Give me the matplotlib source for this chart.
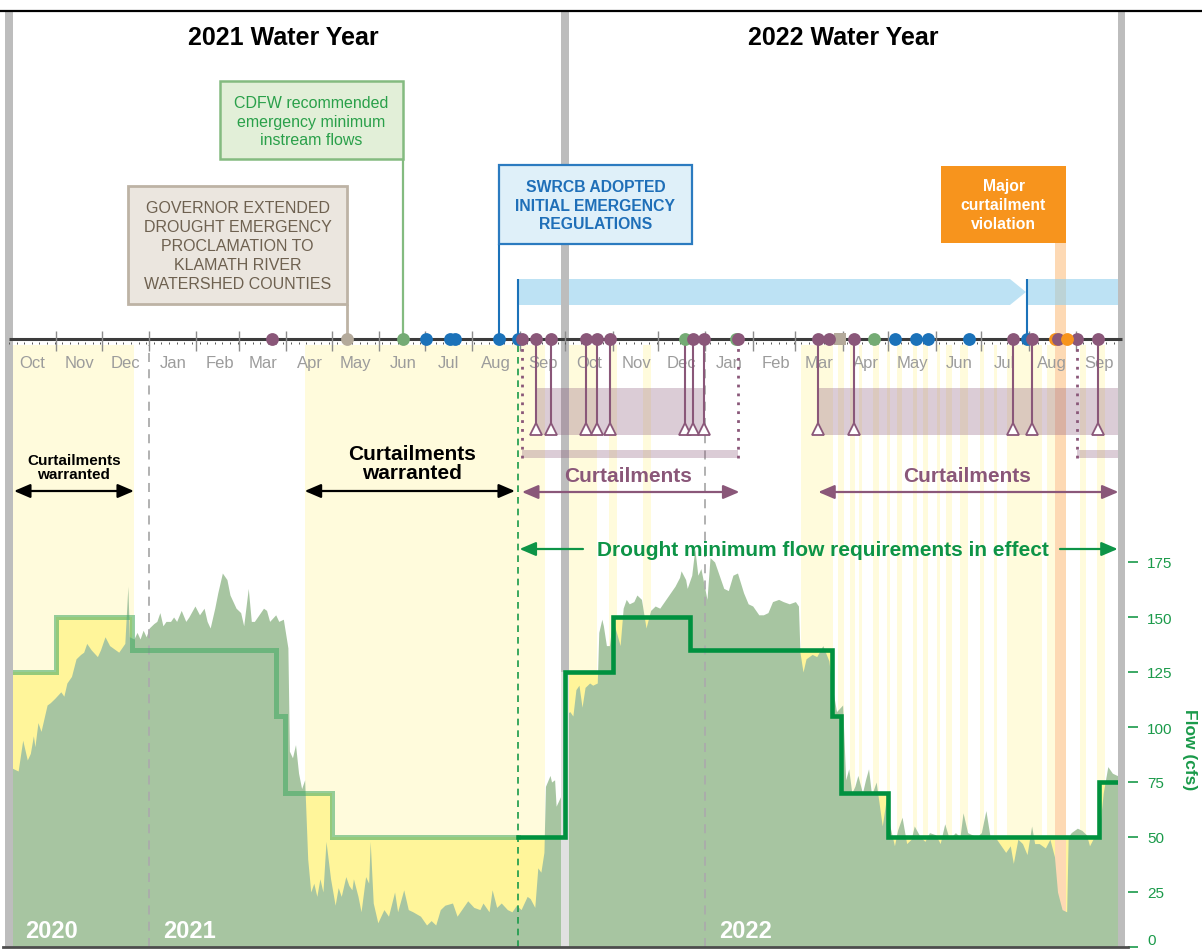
import numpy as np
import pandas as pd
import matplotlib
matplotlib.use("Agg")
import matplotlib.pyplot as plt
from matplotlib.patches import Rectangle, Polygon
from matplotlib.lines import Line2D

plt.rcParams["font.family"] = ["Liberation Sans", "DejaVu Sans"]

# ---------------- data (days counted from 2020-10-01) ----------------
START = pd.Timestamp("2020-10-01")
END_DAY = 730

flow_day = [0, 3, 6, 9, 12, 14, 16, 17, 19, 21, 23, 25, 27, 30, 34, 36, 38, 41, 44, 47,
            49, 51, 54, 58, 60, 63, 66, 70, 72, 74, 76, 78, 79, 82, 84, 86, 88, 90, 92, 95,
            97, 99, 101, 103, 106, 108, 110, 113, 116, 118, 122, 125, 128, 130, 132, 135, 137, 140, 143, 145,
            147, 149, 152, 154, 157, 159, 161, 164, 167, 169, 171, 175, 177, 180,
            183, 184, 186, 188, 190, 192, 194, 196, 198, 200, 202, 204, 206, 208, 211, 214, 216, 218, 221, 223,
            225, 226, 229, 231, 234, 236, 237, 239, 242, 246, 249, 253, 255, 259, 262, 265, 270, 274, 277, 280,
            283, 286, 291, 294, 297, 301, 305, 309, 311, 315, 317, 320, 323, 327, 330, 333, 336, 340, 342, 345,
            347, 349, 351, 352, 355, 356, 358, 359, 363,
            364, 366, 368, 370, 372, 374, 376, 378, 381, 383, 386, 387, 389, 390, 392, 394, 396, 399, 401, 403,
            405, 407, 410, 412, 415, 418, 421, 424, 427, 430, 434, 437, 440, 441, 444, 445, 448, 450, 452, 454,
            458, 460, 463, 465, 469, 472, 475, 478, 482, 485, 488, 492, 495, 498, 501, 505, 508, 512, 516, 518,
            519, 521, 523, 527, 530, 534, 538, 540, 543, 547, 549, 551, 553, 555, 557, 560, 562, 564, 566, 569,
            571, 573, 576, 578, 581, 583, 586, 589, 592, 594, 598, 601, 604, 608, 611, 614, 617, 621, 624, 626,
            629, 632, 635, 638, 641, 644, 647, 650, 654, 657, 659, 662, 665, 668, 671, 673, 676, 680, 683, 686,
            688, 691, 694, 695, 697, 701, 704, 707, 709, 712, 715, 718, 721, 724, 727, 730]
flow_cfs = [82, 81, 80, 94, 85, 88, 96, 91, 102, 98, 104, 110, 111, 113, 116, 114, 120, 123, 131, 133,
            134, 138, 135, 132, 135, 141, 137, 135, 134, 136, 138, 164, 141, 140, 143, 140, 144, 141, 145, 147,
            148, 152, 146, 148, 148, 150, 148, 153, 148, 150, 155, 151, 154, 148, 145, 154, 161, 170, 167, 160,
            157, 154, 152, 146, 163, 148, 148, 151, 154, 153, 148, 151, 148, 149,
            136, 89, 86, 92, 79, 72, 76, 40, 25, 29, 23, 31, 25, 48, 31, 19, 27, 23, 32, 28,
            26, 31, 23, 16, 32, 29, 48, 20, 11, 17, 14, 25, 16, 26, 17, 16, 14, 10, 12, 10,
            17, 19, 20, 14, 17, 21, 18, 17, 20, 16, 26, 18, 20, 17, 16, 19, 17, 23, 22, 18,
            36, 34, 43, 73, 78, 75, 76, 64, 70,
            72, 106, 107, 105, 117, 119, 109, 118, 120, 119, 120, 143, 149, 146, 137, 137, 149, 142, 137, 154,
            158, 156, 157, 160, 158, 145, 153, 155, 154, 157, 161, 164, 168, 171, 167, 163, 169, 181, 169, 172,
            158, 177, 175, 171, 163, 162, 169, 170, 161, 156, 155, 151, 151, 152, 157, 158, 157, 156, 157, 155,
            134, 125, 131, 133, 132, 137, 130, 119, 107, 110, 76, 81, 70, 73, 78, 70, 76, 81, 69, 75,
            65, 55, 69, 55, 46, 53, 59, 47, 49, 55, 50, 48, 52, 51, 47, 56, 49, 52, 50, 61,
            52, 51, 50, 52, 62, 49, 50, 47, 43, 46, 38, 49, 47, 42, 55, 47, 47, 45, 49, 41,
            25, 17, 16, 50, 52, 54, 53, 51, 46, 50, 50, 70, 82, 79, 78, 78]

# minimum flow requirement (step changes)
req_day = [0, 31, 81, 175, 181, 212, 365, 396, 447, 540, 546, 577, 715]
req_cfs = [125, 150, 135, 105, 70, 50, 125, 150, 135, 105, 70, 50, 75]
IN_EFFECT_DAY = 334

# periods when curtailments were warranted
warn_start = [0, 194, 365, 394, 416, 520, 544, 552, 558, 567, 576, 583, 593, 600, 609, 615, 624, 637, 646, 655, 681, 703, 714]
warn_end = [82, 352, 386, 399, 421, 541, 548, 555, 560, 571, 578, 586, 596, 603, 611, 619, 629, 640, 648, 678, 688, 707, 719]

# timeline events
swrcb_days = [273.6, 289.4, 292.7, 321.5, 334, 581.4, 595.1, 603, 630, 667.7]
cdfw_days = [258.5, 443.6, 477, 567.6]
gov_days = [222]
gov_sq_days = [545.3]
violation_days = [686.4, 694.2]
curtail_days = [172.6, 336.6, 345.8, 355.6, 378.6, 385.8, 394.4, 448.8, 456, 478.3, 531, 538,
                554.5, 658.5, 671.3, 688.3, 700.8, 714.6]
order_days = [345.8, 355.6, 378.6, 385.8, 394.4, 443.6, 448.8, 456, 531, 554.5, 658.5, 671.3, 714.6]
curtail_bounds = [336.6, 478.3, 700.8]
curtail_periods = [(336.6, 478.3), (700.8, 728)]
order_periods = [(345.8, 456), (531, 728)]
regulation_periods = [(334, 667.3), (667.7, 728)]
violation_period = (686.4, 693.6)
flow_ticks = [0, 25, 50, 75, 100, 125, 150, 175]

# ---------------- colours ----------------
PURPLE = "#8a5779"
BLUE = "#1b72b9"
GREEN_DOT = "#74ab74"
TAN = "#b4aa9b"
ORANGE = "#f7941d"
DKGREEN = "#00913f"
TXTGREEN = "#0d9447"
FLOWGREEN = "#a7c5a1"

# ---------------- layout ----------------
W, H = 1202, 953
PX0, PXD = 9.0, 1.524      # pixel column of day 0, pixels per day
PY0, PYU = 948.0, 2.2      # pixel row of 0 cfs, pixels per cfs
X0, X1 = -4, 734
Y1 = (PY0 - 12) / PYU


def yp(p):
    return (PY0 - p) / PYU


def xp(p):
    return (p - PX0) / PXD


fig = plt.figure(figsize=(W / 100, H / 100), dpi=100)
left = (PX0 + X0 * PXD) / W
right = (PX0 + X1 * PXD) / W
ax = fig.add_axes([left, (H - PY0) / H, right - left, (PY0 - 12) / H])
ax.set_xlim(X0, X1)
ax.set_ylim(0, Y1)
for s in ax.spines.values():
    s.set_visible(False)
ax.set_xticks([])
ax.yaxis.set_ticks_position("right")
ax.set_yticks(flow_ticks, labels=[str(t) for t in flow_ticks])
ax.tick_params(axis="y", colors="#1a9a4a", length=7, width=1.2, pad=7, labelsize=11)
ax.get_yticklabels()[0].set_verticalalignment("bottom")

TL = yp(340)

# light yellow "curtailment warranted" stripes
for s, e in zip(warn_start, warn_end):
    ax.axvspan(s, e, ymin=0, ymax=yp(346) / Y1, color="#fffbdc", lw=0, zorder=1)

# requirement step arrays
rx = np.array(req_day + [END_DAY], dtype=float)
ry = np.array(req_cfs + [req_cfs[-1]], dtype=float)
ax.fill_between(rx, 0, ry, step="post", color="#fff59a", lw=0, zorder=2)

# violation band
ax.add_patch(Rectangle((violation_period[0], 0), violation_period[1] - violation_period[0], yp(244),
                       fc="#fdd9b4", ec="none", zorder=3))

# flow
ax.fill_between(flow_day, 0, flow_cfs, color=FLOWGREEN, lw=0, zorder=4)

# Jan 1 dashed lines
jan_days = [(pd.Timestamp(f"{y}-01-01") - START).days for y in (2021, 2022)]
ax.vlines(jan_days, 0, yp(346), colors="#ababab", linestyles=(0, (5, 4)), lw=1.3, zorder=5)
ax.vlines([IN_EFFECT_DAY], 0, TL, colors="#1a9a4a", linestyles=(0, (4, 3)), lw=1.2, zorder=5)

# water-year boundary bars
ax.axvspan(-2.5, 2.5, color="#bdbdbd", lw=0, zorder=7.5)
ax.axvspan(END_DAY - 2.5, END_DAY + 2.5, color="#bdbdbd", lw=0, zorder=7.5)
ax.axvspan(362.5, 367.5, ymin=125 / Y1, ymax=1, color="#bdbdbd", lw=0, zorder=5.5)
ax.axvspan(362.5, 367.5, ymin=0, ymax=125 / Y1, color="#e1e1e1", lw=0, zorder=5.5)

# requirement lines: faded before in effect, bold after
i_eff = np.searchsorted(rx, IN_EFFECT_DAY, side="right") - 1
fx = np.concatenate([rx[:i_eff + 1], [IN_EFFECT_DAY]])
fy = np.concatenate([ry[:i_eff + 1], [ry[i_eff]]])
bx = np.concatenate([[IN_EFFECT_DAY], rx[i_eff + 1:]])
by = np.concatenate([[ry[i_eff]], ry[i_eff + 1:]])
ax.step(fx, fy, where="post", color="#3ea860", alpha=0.55, lw=3.6, zorder=6, solid_joinstyle="miter")
ax.step(bx, by, where="post", color=DKGREEN, lw=3.3, zorder=6.1, solid_joinstyle="miter")

# year labels inside flow area
for yr, d in (("2020", xp(25)), ("2021", xp(163)), ("2022", xp(719))):
    ax.text(d, yp(932), yr, color="white", fontsize=17, fontweight="bold", ha="left", va="center", zorder=10)

# ---------------- timeline ----------------
ax.hlines(TL, 0, END_DAY, colors="#3c3c3c", lw=2.2, zorder=8)
month_starts = pd.date_range("2020-11-01", "2022-09-01", freq="MS")
ms_days = [(m - START).days for m in month_starts]
ax.vlines(ms_days, yp(352), yp(332), colors="#8c8c8c", lw=1.0, zorder=8)
weeks = np.arange(0, END_DAY, 5)
ax.vlines(weeks, yp(345), yp(342.5), colors="#555555", lw=0.7, zorder=8)
for m in pd.date_range("2020-10-01", "2022-09-01", freq="MS"):
    mid = (m - START).days + 15.5
    ax.text(mid, yp(363), m.strftime("%b"), color="#9c9c9c", fontsize=12, ha="center", va="center", zorder=8)

# purple order bands
for s, e in order_periods:
    ax.add_patch(Rectangle((s, yp(436)), e - s, yp(389) - yp(436), fc=PURPLE, alpha=0.3, ec="none", zorder=7))
for s, e in curtail_periods:
    ax.add_patch(Rectangle((s, yp(459)), e - s, yp(451) - yp(459), fc=PURPLE, alpha=0.3, ec="none", zorder=7))
ax.vlines(curtail_bounds, yp(459), TL, colors=PURPLE, linestyles=(0, (1, 2.2)), lw=2, zorder=8.4)
TRI = yp(430)
ax.vlines(order_days, TRI, TL, colors=PURPLE, lw=1.5, zorder=8.5)
ax.plot(order_days, [TRI] * len(order_days), "^", ms=8, mfc="white", mec=PURPLE, mew=1.3, ls="none", zorder=8.6)

# regulations (blue band)
(r0, r1), (r2, r3) = regulation_periods
b_lo, b_hi = yp(306), yp(280)
ax.add_patch(Polygon([(r0, b_lo), (r1 - 10.5, b_lo), (r1, (b_lo + b_hi) / 2), (r1 - 10.5, b_hi), (r0, b_hi)],
                     closed=True, fc="#91d0ed", alpha=0.6, ec="none", zorder=3.5))
ax.add_patch(Rectangle((r2, b_lo), r3 - r2, b_hi - b_lo, fc="#91d0ed", alpha=0.6, ec="none", zorder=3.5))
ax.vlines([r0, r2], TL, b_hi, colors=BLUE, lw=1.5, zorder=8)


# boxes with connectors
def box(x0, x1, ytop, ybot, fc, ec, lw=1.8):
    ax.add_patch(Rectangle((x0, yp(ybot)), x1 - x0, yp(ytop) - yp(ybot), fc=fc, ec=ec, lw=lw, zorder=9))


box(xp(220), cdfw_days[0], 82, 160, "#e2efd8", "#84bb80")
ax.vlines([cdfw_days[0]], TL, yp(160), colors="#84bb80", lw=1.6, zorder=8)
ax.text((xp(220) + cdfw_days[0]) / 2, yp(122), "CDFW recommended\nemergency minimum\ninstream flows",
        color="#2aa04a", fontsize=11.5, ha="center", va="center", linespacing=1.3, zorder=10)

box(xp(128), gov_days[0], 187, 305, "#ebe6df", "#bdb3a5", lw=2)
ax.vlines([gov_days[0]], TL, yp(305), colors="#bdb3a5", lw=2, zorder=8)
ax.text((xp(128) + gov_days[0]) / 2, yp(246.5),
        "GOVERNOR EXTENDED\nDROUGHT EMERGENCY\nPROCLAMATION TO\nKLAMATH RIVER\nWATERSHED COUNTIES",
        color="#6e6150", fontsize=11.5, ha="center", va="center", linespacing=1.32, zorder=10)

box(swrcb_days[3], xp(692), 166, 245, "#dff0f9", "#2b7bc0", lw=1.6)
ax.vlines([swrcb_days[3]], TL, yp(245), colors=BLUE, lw=1.5, zorder=8)
ax.text((swrcb_days[3] + xp(692)) / 2, yp(206), "SWRCB ADOPTED\nINITIAL EMERGENCY\nREGULATIONS",
        color="#1f6fb8", fontsize=11.3, fontweight="bold", ha="center", va="center", linespacing=1.3, zorder=10)

ax.add_patch(Rectangle((xp(941), yp(244)), violation_period[1] - xp(941), yp(167) - yp(244),
                       fc=ORANGE, ec="none", zorder=9))
ax.text((xp(941) + violation_period[1]) / 2, yp(205.5), "Major\ncurtailment\nviolation",
        color="white", fontsize=11.3, fontweight="bold", ha="center", va="center", linespacing=1.3, zorder=10)

# dots
DOT = 85
ax.scatter(swrcb_days, [TL] * len(swrcb_days), s=DOT, c=BLUE, lw=0, zorder=9)
ax.scatter(cdfw_days, [TL] * len(cdfw_days), s=DOT, c=GREEN_DOT, lw=0, zorder=9)
ax.scatter(gov_days, [TL] * len(gov_days), s=DOT, c=TAN, lw=0, zorder=9)
ax.scatter(gov_sq_days, [TL] * len(gov_sq_days), s=70, c=TAN, marker="s", lw=0, zorder=9)
ax.scatter(violation_days[:1], [TL], s=DOT, c=ORANGE, lw=0, zorder=9)
ax.scatter(curtail_days, [TL] * len(curtail_days), s=DOT, c=PURPLE, lw=0, zorder=9.2)
ax.scatter(violation_days[1:], [TL], s=DOT, c=ORANGE, lw=0, zorder=9.4)


# ---------------- annotations ----------------
def darrow(x0, x1, y, color, style="<|-|>"):
    ax.annotate("", xy=(x1, y), xytext=(x0, y),
                arrowprops=dict(arrowstyle=style + ",head_length=0.7,head_width=0.3", color=color, lw=1.6,
                                shrinkA=0, shrinkB=0, mutation_scale=14), zorder=10)


darrow(xp(14), warn_end[0], yp(492), "black")
ax.text((xp(14) + warn_end[0]) / 2, yp(468), "Curtailments\nwarranted", fontsize=11, fontweight="bold",
        ha="center", va="center", linespacing=0.95, zorder=10)
darrow(warn_start[1], IN_EFFECT_DAY - 2, yp(492), "black")
ax.text(xp(412), yp(464), "Curtailments\nwarranted", fontsize=15, fontweight="bold",
        ha="center", va="center", linespacing=1.05, zorder=10)

darrow(curtail_periods[0][0], curtail_periods[0][1] + 1, yp(493), PURPLE)
ax.text(xp(628.5), yp(476), "Curtailments", color=PURPLE, fontsize=15, fontweight="bold",
        ha="center", va="center", zorder=10)
darrow(order_periods[1][0], END_DAY - 2, yp(493), PURPLE)
ax.text(xp(967.5), yp(476), "Curtailments", color=PURPLE, fontsize=15, fontweight="bold",
        ha="center", va="center", zorder=10)

ax.text(xp(822.5), yp(550), "Drought minimum flow requirements in effect", color=TXTGREEN, fontsize=15,
        fontweight="bold", ha="center", va="center", zorder=10)
darrow(xp(583), IN_EFFECT_DAY + 1, yp(550), TXTGREEN, style="-|>")
darrow(xp(1060), END_DAY - 2.5, yp(550), TXTGREEN, style="-|>")

ax.text(xp(283), yp(38), "2021 Water Year", fontsize=18, fontweight="bold", ha="center", va="center", zorder=10)
ax.text(xp(843), yp(38), "2022 Water Year", fontsize=18, fontweight="bold", ha="center", va="center", zorder=10)

fig.text(1190 / W, 1 - 750 / H, "Flow (cfs)", rotation=-90, color="#1a9a4a", fontsize=12.5,
         fontweight="bold", ha="center", va="center")

ax.axhline(0, color="#4d4d4d", lw=2, zorder=10, clip_on=False)
fig.add_artist(Line2D([0, 1], [1 - 12 / H, 1 - 12 / H], transform=fig.transFigure, color="black", lw=1.6))

fig.savefig("out.png", dpi=100)
